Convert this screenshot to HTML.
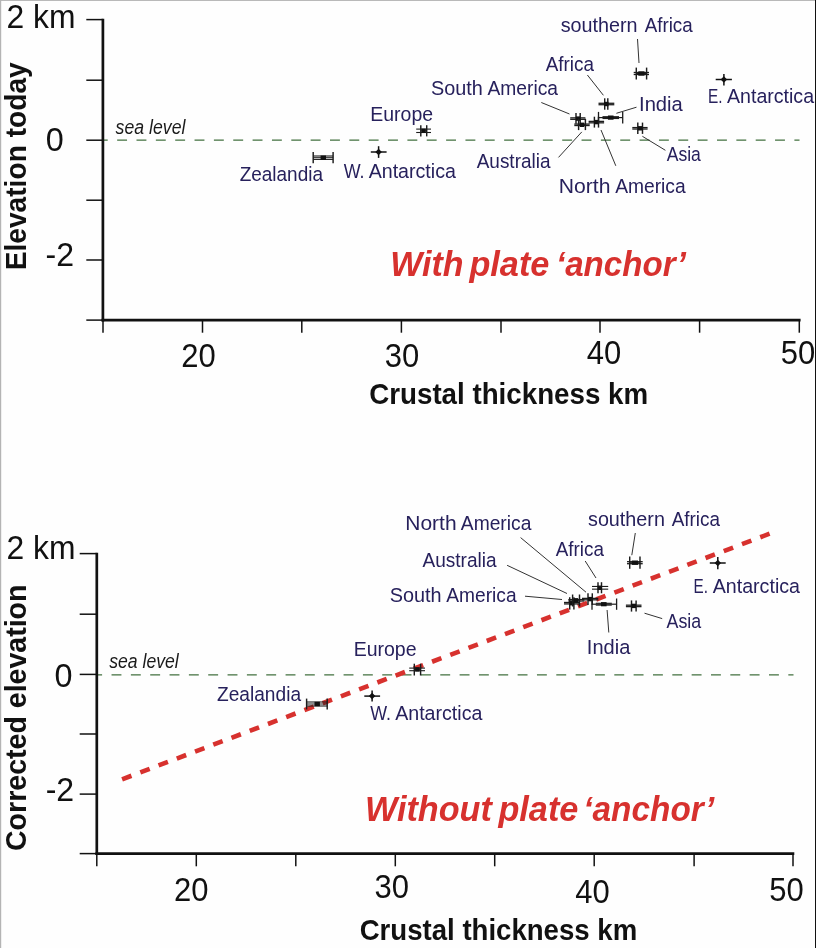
<!DOCTYPE html>
<html><head><meta charset="utf-8"><title>Crustal thickness vs elevation</title>
<style>html,body{margin:0;padding:0;background:#fff;}body{width:816px;height:948px;overflow:hidden;}svg{display:block;font-family:"Liberation Sans",sans-serif;will-change:transform;}</style>
</head><body>
<svg width="816" height="948" viewBox="0 0 816 948">
<rect x="0" y="0" width="816" height="948" fill="#fefefe"/>
<rect x="0" y="0" width="816" height="1" fill="#b9b9b9"/>
<rect x="0" y="0" width="1.2" height="948" fill="#b4b4b4"/>
<rect x="815" y="0" width="1" height="948" fill="#111"/>
<line x1="102.9" y1="140.1" x2="799.5" y2="140.1" stroke="#42703f" stroke-width="1.25" stroke-dasharray="9.9 9.45" stroke-dashoffset="5.1"/>
<line x1="102.9" y1="18.8" x2="102.9" y2="321.4" stroke="#111" stroke-width="2.7"/>
<line x1="86.3" y1="19.6" x2="102.9" y2="19.6" stroke="#111" stroke-width="1.5"/>
<line x1="86.3" y1="80.2" x2="102.9" y2="80.2" stroke="#111" stroke-width="1.5"/>
<line x1="86.3" y1="140.2" x2="102.9" y2="140.2" stroke="#111" stroke-width="1.5"/>
<line x1="86.3" y1="200.2" x2="102.9" y2="200.2" stroke="#111" stroke-width="1.5"/>
<line x1="86.3" y1="260.0" x2="102.9" y2="260.0" stroke="#111" stroke-width="1.5"/>
<line x1="101.55" y1="320.1" x2="800.6" y2="320.1" stroke="#111" stroke-width="2.7"/>
<line x1="86.3" y1="320.1" x2="102.9" y2="320.1" stroke="#111" stroke-width="1.5"/>
<line x1="103" y1="320.1" x2="103" y2="332.7" stroke="#111" stroke-width="1.5"/>
<line x1="202.5" y1="320.1" x2="202.5" y2="332.7" stroke="#111" stroke-width="1.5"/>
<line x1="301.8" y1="320.1" x2="301.8" y2="332.7" stroke="#111" stroke-width="1.5"/>
<line x1="401.4" y1="320.1" x2="401.4" y2="332.7" stroke="#111" stroke-width="1.5"/>
<line x1="501.0" y1="320.1" x2="501.0" y2="332.7" stroke="#111" stroke-width="1.5"/>
<line x1="600.0" y1="320.1" x2="600.0" y2="332.7" stroke="#111" stroke-width="1.5"/>
<line x1="699.6" y1="320.1" x2="699.6" y2="332.7" stroke="#111" stroke-width="1.5"/>
<line x1="799.3" y1="320.1" x2="799.3" y2="332.7" stroke="#111" stroke-width="1.5"/>
<text x="6.5" y="27.9" font-size="32.5" fill="#111" font-weight="normal" font-style="normal" text-anchor="start" textLength="69" lengthAdjust="spacingAndGlyphs">2 km</text>
<text x="45.8" y="150.7" font-size="32.5" fill="#111" font-weight="normal" font-style="normal" text-anchor="start" textLength="18" lengthAdjust="spacingAndGlyphs">0</text>
<text x="45.5" y="265.5" font-size="32.5" fill="#111" font-weight="normal" font-style="normal" text-anchor="start" textLength="28.5" lengthAdjust="spacingAndGlyphs">-2</text>
<text x="181.2" y="367.0" font-size="32.5" fill="#111" font-weight="normal" font-style="normal" text-anchor="start" textLength="34.5" lengthAdjust="spacingAndGlyphs">20</text>
<text x="384.7" y="367.0" font-size="32.5" fill="#111" font-weight="normal" font-style="normal" text-anchor="start" textLength="34.5" lengthAdjust="spacingAndGlyphs">30</text>
<text x="586.7" y="363.9" font-size="32.5" fill="#111" font-weight="normal" font-style="normal" text-anchor="start" textLength="34.5" lengthAdjust="spacingAndGlyphs">40</text>
<text x="780.7" y="363.9" font-size="32.5" fill="#111" font-weight="normal" font-style="normal" text-anchor="start" textLength="34.5" lengthAdjust="spacingAndGlyphs">50</text>
<text transform="translate(25.9,270.3) rotate(-90)" font-size="29.5" font-weight="bold" fill="#111" textLength="208" lengthAdjust="spacingAndGlyphs">Elevation today</text>
<text x="369.2" y="404.4" font-size="30" fill="#111" font-weight="bold" font-style="normal" text-anchor="start" textLength="279" lengthAdjust="spacingAndGlyphs">Crustal thickness km</text>
<text x="390.2" y="276.3" font-size="35" fill="#d7312e" font-weight="bold" font-style="italic" text-anchor="start" textLength="73.3" lengthAdjust="spacingAndGlyphs">With</text>
<text x="469.4" y="276.3" font-size="35" fill="#d7312e" font-weight="bold" font-style="italic" text-anchor="start" textLength="80" lengthAdjust="spacingAndGlyphs">plate</text>
<text x="556.0" y="276.3" font-size="35" fill="#d7312e" font-weight="bold" font-style="italic" text-anchor="start" textLength="130" lengthAdjust="spacingAndGlyphs">&#8216;anchor&#8217;</text>
<text x="115.6" y="134.2" font-size="20" fill="#1a1a1a" font-weight="normal" font-style="italic" text-anchor="start" textLength="69.8" lengthAdjust="spacingAndGlyphs">sea level</text>
<text x="560.7" y="32" font-size="19.7" fill="#27215c" font-weight="normal" font-style="normal" text-anchor="start" textLength="76.9" lengthAdjust="spacingAndGlyphs" id="w0">southern</text>
<text x="644.66" y="32" font-size="19.7" fill="#27215c" font-weight="normal" font-style="normal" text-anchor="start" textLength="48.04" lengthAdjust="spacingAndGlyphs" id="w1">Africa</text>
<text x="545.66" y="71" font-size="19.7" fill="#27215c" font-weight="normal" font-style="normal" text-anchor="start" textLength="48.25" lengthAdjust="spacingAndGlyphs" id="w2">Africa</text>
<text x="430.94" y="95" font-size="19.7" fill="#27215c" font-weight="normal" font-style="normal" text-anchor="start" textLength="51.87" lengthAdjust="spacingAndGlyphs" id="w3">South</text>
<text x="487.5" y="95" font-size="19.7" fill="#27215c" font-weight="normal" font-style="normal" text-anchor="start" textLength="70.5" lengthAdjust="spacingAndGlyphs" id="w4">America</text>
<text x="370.29" y="121" font-size="19.7" fill="#27215c" font-weight="normal" font-style="normal" text-anchor="start" textLength="62.82" lengthAdjust="spacingAndGlyphs" id="w5">Europe</text>
<text x="639.04" y="111" font-size="19.7" fill="#27215c" font-weight="normal" font-style="normal" text-anchor="start" textLength="43.71" lengthAdjust="spacingAndGlyphs" id="w6">India</text>
<text x="707.93" y="103" font-size="19.7" fill="#27215c" font-weight="normal" font-style="normal" text-anchor="start" textLength="14.55" lengthAdjust="spacingAndGlyphs" id="w7">E.</text>
<text x="727.0" y="103" font-size="19.7" fill="#27215c" font-weight="normal" font-style="normal" text-anchor="start" textLength="87.05" lengthAdjust="spacingAndGlyphs" id="w8">Antarctica</text>
<text x="666.66" y="161" font-size="19.7" fill="#27215c" font-weight="normal" font-style="normal" text-anchor="start" textLength="34.19" lengthAdjust="spacingAndGlyphs" id="w9">Asia</text>
<text x="476.7" y="168" font-size="19.7" fill="#27215c" font-weight="normal" font-style="normal" text-anchor="start" textLength="73.8" lengthAdjust="spacingAndGlyphs" id="w10">Australia</text>
<text x="558.81" y="193" font-size="19.7" fill="#27215c" font-weight="normal" font-style="normal" text-anchor="start" textLength="51.68" lengthAdjust="spacingAndGlyphs" id="w11">North</text>
<text x="615.2" y="193" font-size="19.7" fill="#27215c" font-weight="normal" font-style="normal" text-anchor="start" textLength="70.5" lengthAdjust="spacingAndGlyphs" id="w12">America</text>
<text x="239.66" y="181" font-size="19.7" fill="#27215c" font-weight="normal" font-style="normal" text-anchor="start" textLength="83.34" lengthAdjust="spacingAndGlyphs" id="w13">Zealandia</text>
<text x="343.65" y="178" font-size="19.7" fill="#27215c" font-weight="normal" font-style="normal" text-anchor="start" textLength="20.84" lengthAdjust="spacingAndGlyphs" id="w14">W.</text>
<text x="368.7" y="178" font-size="19.7" fill="#27215c" font-weight="normal" font-style="normal" text-anchor="start" textLength="87.2" lengthAdjust="spacingAndGlyphs" id="w15">Antarctica</text>
<line x1="637.5" y1="39.0" x2="639.0" y2="63.0" stroke="#333" stroke-width="1.0"/>
<line x1="587.4" y1="75.0" x2="603.4" y2="95.3" stroke="#333" stroke-width="1.0"/>
<line x1="541.3" y1="102.5" x2="569.5" y2="114.0" stroke="#333" stroke-width="1.0"/>
<line x1="558.5" y1="157.4" x2="581.8" y2="131.9" stroke="#333" stroke-width="1.0"/>
<line x1="601.0" y1="130.0" x2="615.8" y2="165.8" stroke="#333" stroke-width="1.0"/>
<line x1="616.4" y1="113.3" x2="636.5" y2="107.2" stroke="#333" stroke-width="1.0"/>
<line x1="642.4" y1="136.3" x2="665.4" y2="150.3" stroke="#333" stroke-width="1.0"/>
<line x1="313.2" y1="156.0" x2="333.1" y2="156.0" stroke="#1c1c1c" stroke-width="1.1"/>
<line x1="313.2" y1="159.39999999999998" x2="333.1" y2="159.39999999999998" stroke="#1c1c1c" stroke-width="1.1"/>
<line x1="313.2" y1="157.7" x2="333.1" y2="157.7" stroke="#1c1c1c" stroke-width="1.0"/>
<line x1="313.2" y1="152.0" x2="313.2" y2="163.3" stroke="#1c1c1c" stroke-width="1.45"/>
<line x1="333.1" y1="152.0" x2="333.1" y2="163.3" stroke="#1c1c1c" stroke-width="1.45"/>
<rect x="320.6" y="155.5" width="5.4" height="4.4" fill="#111"/>
<line x1="370.8" y1="152.0" x2="386.6" y2="152.0" stroke="#111" stroke-width="1.5"/>
<line x1="378.6" y1="146.2" x2="378.6" y2="157.9" stroke="#111" stroke-width="1.5"/>
<rect x="376.3" y="149.7" width="4.6" height="4.6" fill="#111" transform="rotate(45 378.6 152.0)"/>
<line x1="416.2" y1="129.10000000000002" x2="431.0" y2="129.10000000000002" stroke="#1c1c1c" stroke-width="1.1"/>
<line x1="416.2" y1="132.5" x2="431.0" y2="132.5" stroke="#1c1c1c" stroke-width="1.1"/>
<line x1="420.8" y1="130.8" x2="426.7" y2="130.8" stroke="#1c1c1c" stroke-width="1.0"/>
<line x1="420.8" y1="125.2" x2="420.8" y2="136.4" stroke="#1c1c1c" stroke-width="1.45"/>
<line x1="426.7" y1="125.2" x2="426.7" y2="136.4" stroke="#1c1c1c" stroke-width="1.45"/>
<rect x="421.40000000000003" y="128.60000000000002" width="4.4" height="4.4" fill="#111"/>
<line x1="598.5" y1="103.28" x2="614.3" y2="103.28" stroke="#1c1c1c" stroke-width="1.3"/>
<line x1="598.5" y1="104.72" x2="614.3" y2="104.72" stroke="#1c1c1c" stroke-width="1.3"/>
<line x1="604.7" y1="104.0" x2="607.8" y2="104.0" stroke="#1c1c1c" stroke-width="1.0"/>
<line x1="604.7" y1="98.3" x2="604.7" y2="109.7" stroke="#1c1c1c" stroke-width="1.45"/>
<line x1="607.8" y1="98.3" x2="607.8" y2="109.7" stroke="#1c1c1c" stroke-width="1.45"/>
<rect x="604.0999999999999" y="101.8" width="4.4" height="4.4" fill="#111"/>
<line x1="570.2" y1="117.88" x2="585.4" y2="117.88" stroke="#1c1c1c" stroke-width="1.3"/>
<line x1="570.2" y1="119.32" x2="585.4" y2="119.32" stroke="#1c1c1c" stroke-width="1.3"/>
<line x1="576.0" y1="118.6" x2="580.2" y2="118.6" stroke="#1c1c1c" stroke-width="1.0"/>
<line x1="576.0" y1="113.0" x2="576.0" y2="123.8" stroke="#1c1c1c" stroke-width="1.45"/>
<line x1="580.2" y1="113.0" x2="580.2" y2="123.8" stroke="#1c1c1c" stroke-width="1.45"/>
<rect x="575.9" y="116.39999999999999" width="4.4" height="4.4" fill="#111"/>
<line x1="574.3" y1="124.08" x2="589.7" y2="124.08" stroke="#1c1c1c" stroke-width="1.3"/>
<line x1="574.3" y1="125.52" x2="589.7" y2="125.52" stroke="#1c1c1c" stroke-width="1.3"/>
<line x1="578.6" y1="124.8" x2="585.4" y2="124.8" stroke="#1c1c1c" stroke-width="1.0"/>
<line x1="578.6" y1="118.8" x2="578.6" y2="130.1" stroke="#1c1c1c" stroke-width="1.45"/>
<line x1="585.4" y1="118.8" x2="585.4" y2="130.1" stroke="#1c1c1c" stroke-width="1.45"/>
<rect x="579.8" y="122.6" width="4.4" height="4.4" fill="#111"/>
<line x1="588.6" y1="121.38" x2="604.1" y2="121.38" stroke="#1c1c1c" stroke-width="1.3"/>
<line x1="588.6" y1="122.82" x2="604.1" y2="122.82" stroke="#1c1c1c" stroke-width="1.3"/>
<line x1="594.4" y1="122.1" x2="598.5" y2="122.1" stroke="#1c1c1c" stroke-width="1.0"/>
<line x1="594.4" y1="116.7" x2="594.4" y2="127.6" stroke="#1c1c1c" stroke-width="1.45"/>
<line x1="598.5" y1="116.7" x2="598.5" y2="127.6" stroke="#1c1c1c" stroke-width="1.45"/>
<rect x="594.1999999999999" y="119.89999999999999" width="4.4" height="4.4" fill="#111"/>
<line x1="598.5" y1="117.6" x2="622.7" y2="117.6" stroke="#1c1c1c" stroke-width="1.2"/>
<line x1="598.5" y1="111.9" x2="598.5" y2="123.4" stroke="#1c1c1c" stroke-width="1.3"/>
<line x1="622.7" y1="111.9" x2="622.7" y2="123.4" stroke="#1c1c1c" stroke-width="1.3"/>
<line x1="602.5" y1="116.69999999999999" x2="619.0" y2="116.69999999999999" stroke="#1c1c1c" stroke-width="1.15"/>
<line x1="602.5" y1="118.5" x2="619.0" y2="118.5" stroke="#1c1c1c" stroke-width="1.15"/>
<rect x="607.95" y="115.5" width="5.6" height="4.2" fill="#111"/>
<line x1="632.3" y1="127.58000000000001" x2="647.6" y2="127.58000000000001" stroke="#1c1c1c" stroke-width="1.3"/>
<line x1="632.3" y1="129.02" x2="647.6" y2="129.02" stroke="#1c1c1c" stroke-width="1.3"/>
<line x1="637.8" y1="128.3" x2="642.5" y2="128.3" stroke="#1c1c1c" stroke-width="1.0"/>
<line x1="637.8" y1="122.6" x2="637.8" y2="133.9" stroke="#1c1c1c" stroke-width="1.45"/>
<line x1="642.5" y1="122.6" x2="642.5" y2="133.9" stroke="#1c1c1c" stroke-width="1.45"/>
<rect x="638.0" y="126.10000000000001" width="4.4" height="4.4" fill="#111"/>
<line x1="633.7" y1="72.5" x2="649.0" y2="72.5" stroke="#1c1c1c" stroke-width="1.3"/>
<line x1="633.7" y1="74.5" x2="649.0" y2="74.5" stroke="#1c1c1c" stroke-width="1.3"/>
<line x1="636.3" y1="73.5" x2="646.6" y2="73.5" stroke="#1c1c1c" stroke-width="1.0"/>
<line x1="636.3" y1="67.6" x2="636.3" y2="79.5" stroke="#1c1c1c" stroke-width="1.45"/>
<line x1="646.6" y1="67.6" x2="646.6" y2="79.5" stroke="#1c1c1c" stroke-width="1.45"/>
<rect x="638.3" y="71.3" width="6.2" height="4.4" fill="#111"/>
<line x1="715.7" y1="79.5" x2="731.9" y2="79.5" stroke="#111" stroke-width="1.5"/>
<line x1="723.9" y1="74.1" x2="723.9" y2="85.5" stroke="#111" stroke-width="1.5"/>
<rect x="721.6" y="77.2" width="4.6" height="4.6" fill="#111" transform="rotate(45 723.9 79.5)"/>
<line x1="96.8" y1="674.8" x2="793.5" y2="674.8" stroke="#42703f" stroke-width="1.25" stroke-dasharray="9.9 9.437" stroke-dashoffset="4.6"/>
<line x1="122.1" y1="779.3" x2="769.9" y2="533.6" stroke="#d7312e" stroke-width="4.6" stroke-dasharray="10.0 9.5"/>
<line x1="96.8" y1="552.7" x2="96.8" y2="854.9" stroke="#111" stroke-width="2.7"/>
<line x1="79.7" y1="553.6" x2="96.8" y2="553.6" stroke="#111" stroke-width="1.5"/>
<line x1="79.7" y1="614.2" x2="96.8" y2="614.2" stroke="#111" stroke-width="1.5"/>
<line x1="79.7" y1="674.4" x2="96.8" y2="674.4" stroke="#111" stroke-width="1.5"/>
<line x1="79.7" y1="734.0" x2="96.8" y2="734.0" stroke="#111" stroke-width="1.5"/>
<line x1="79.7" y1="794.1" x2="96.8" y2="794.1" stroke="#111" stroke-width="1.5"/>
<line x1="95.45" y1="853.6" x2="794.3" y2="853.6" stroke="#111" stroke-width="2.7"/>
<line x1="79.7" y1="853.6" x2="96.8" y2="853.6" stroke="#111" stroke-width="1.5"/>
<line x1="96.8" y1="853.6" x2="96.8" y2="866.3" stroke="#111" stroke-width="1.5"/>
<line x1="196.3" y1="853.6" x2="196.3" y2="866.3" stroke="#111" stroke-width="1.5"/>
<line x1="295.8" y1="853.6" x2="295.8" y2="866.3" stroke="#111" stroke-width="1.5"/>
<line x1="395.3" y1="853.6" x2="395.3" y2="866.3" stroke="#111" stroke-width="1.5"/>
<line x1="494.7" y1="853.6" x2="494.7" y2="866.3" stroke="#111" stroke-width="1.5"/>
<line x1="594.2" y1="853.6" x2="594.2" y2="866.3" stroke="#111" stroke-width="1.5"/>
<line x1="694.1" y1="853.6" x2="694.1" y2="866.3" stroke="#111" stroke-width="1.5"/>
<line x1="793.0" y1="853.6" x2="793.0" y2="866.3" stroke="#111" stroke-width="1.5"/>
<text x="6.5" y="559.4" font-size="32.5" fill="#111" font-weight="normal" font-style="normal" text-anchor="start" textLength="69" lengthAdjust="spacingAndGlyphs">2 km</text>
<text x="54.5" y="686.5" font-size="32.5" fill="#111" font-weight="normal" font-style="normal" text-anchor="start" textLength="18" lengthAdjust="spacingAndGlyphs">0</text>
<text x="45.7" y="801.3" font-size="32.5" fill="#111" font-weight="normal" font-style="normal" text-anchor="start" textLength="28.5" lengthAdjust="spacingAndGlyphs">-2</text>
<text x="174.0" y="900.8" font-size="32.5" fill="#111" font-weight="normal" font-style="normal" text-anchor="start" textLength="34.5" lengthAdjust="spacingAndGlyphs">20</text>
<text x="374.5" y="897.5" font-size="32.5" fill="#111" font-weight="normal" font-style="normal" text-anchor="start" textLength="34.5" lengthAdjust="spacingAndGlyphs">30</text>
<text x="575.2" y="902.5" font-size="32.5" fill="#111" font-weight="normal" font-style="normal" text-anchor="start" textLength="34.5" lengthAdjust="spacingAndGlyphs">40</text>
<text x="769.2" y="900.8" font-size="32.5" fill="#111" font-weight="normal" font-style="normal" text-anchor="start" textLength="34.5" lengthAdjust="spacingAndGlyphs">50</text>
<text transform="translate(26.1,851.0) rotate(-90)" font-size="29.5" font-weight="bold" fill="#111" textLength="266.5" lengthAdjust="spacingAndGlyphs">Corrected elevation</text>
<text x="359.7" y="939.8" font-size="30" fill="#111" font-weight="bold" font-style="normal" text-anchor="start" textLength="277.5" lengthAdjust="spacingAndGlyphs">Crustal thickness km</text>
<text x="364.9" y="820.6" font-size="35" fill="#d7312e" font-weight="bold" font-style="italic" text-anchor="start" textLength="127" lengthAdjust="spacingAndGlyphs">Without</text>
<text x="498.4" y="820.6" font-size="35" fill="#d7312e" font-weight="bold" font-style="italic" text-anchor="start" textLength="80" lengthAdjust="spacingAndGlyphs">plate</text>
<text x="583.3" y="820.6" font-size="35" fill="#d7312e" font-weight="bold" font-style="italic" text-anchor="start" textLength="131" lengthAdjust="spacingAndGlyphs">&#8216;anchor&#8217;</text>
<text x="109.2" y="668.2" font-size="20" fill="#1a1a1a" font-weight="normal" font-style="italic" text-anchor="start" textLength="69.6" lengthAdjust="spacingAndGlyphs">sea level</text>
<text x="405.31" y="530" font-size="19.7" fill="#27215c" font-weight="normal" font-style="normal" text-anchor="start" textLength="51.29" lengthAdjust="spacingAndGlyphs" id="w16">North</text>
<text x="460.8" y="530" font-size="19.7" fill="#27215c" font-weight="normal" font-style="normal" text-anchor="start" textLength="70.6" lengthAdjust="spacingAndGlyphs" id="w17">America</text>
<text x="588.0" y="526" font-size="19.7" fill="#27215c" font-weight="normal" font-style="normal" text-anchor="start" textLength="76.91" lengthAdjust="spacingAndGlyphs" id="w18">southern</text>
<text x="671.7" y="526" font-size="19.7" fill="#27215c" font-weight="normal" font-style="normal" text-anchor="start" textLength="48.3" lengthAdjust="spacingAndGlyphs" id="w19">Africa</text>
<text x="422.5" y="567" font-size="19.7" fill="#27215c" font-weight="normal" font-style="normal" text-anchor="start" textLength="74.05" lengthAdjust="spacingAndGlyphs" id="w20">Australia</text>
<text x="555.7" y="556" font-size="19.7" fill="#27215c" font-weight="normal" font-style="normal" text-anchor="start" textLength="48.2" lengthAdjust="spacingAndGlyphs" id="w21">Africa</text>
<text x="389.75" y="602" font-size="19.7" fill="#27215c" font-weight="normal" font-style="normal" text-anchor="start" textLength="51.87" lengthAdjust="spacingAndGlyphs" id="w22">South</text>
<text x="446.3" y="602" font-size="19.7" fill="#27215c" font-weight="normal" font-style="normal" text-anchor="start" textLength="70.25" lengthAdjust="spacingAndGlyphs" id="w23">America</text>
<text x="693.62" y="593" font-size="19.7" fill="#27215c" font-weight="normal" font-style="normal" text-anchor="start" textLength="14.41" lengthAdjust="spacingAndGlyphs" id="w24">E.</text>
<text x="712.7" y="593" font-size="19.7" fill="#27215c" font-weight="normal" font-style="normal" text-anchor="start" textLength="87.3" lengthAdjust="spacingAndGlyphs" id="w25">Antarctica</text>
<text x="666.5" y="628" font-size="19.7" fill="#27215c" font-weight="normal" font-style="normal" text-anchor="start" textLength="34.69" lengthAdjust="spacingAndGlyphs" id="w26">Asia</text>
<text x="586.86" y="654" font-size="19.7" fill="#27215c" font-weight="normal" font-style="normal" text-anchor="start" textLength="43.44" lengthAdjust="spacingAndGlyphs" id="w27">India</text>
<text x="353.63" y="656" font-size="19.7" fill="#27215c" font-weight="normal" font-style="normal" text-anchor="start" textLength="62.97" lengthAdjust="spacingAndGlyphs" id="w28">Europe</text>
<text x="217.01" y="701" font-size="19.7" fill="#27215c" font-weight="normal" font-style="normal" text-anchor="start" textLength="84.04" lengthAdjust="spacingAndGlyphs" id="w29">Zealandia</text>
<text x="370.15" y="720" font-size="19.7" fill="#27215c" font-weight="normal" font-style="normal" text-anchor="start" textLength="20.84" lengthAdjust="spacingAndGlyphs" id="w30">W.</text>
<text x="395.2" y="720" font-size="19.7" fill="#27215c" font-weight="normal" font-style="normal" text-anchor="start" textLength="87.2" lengthAdjust="spacingAndGlyphs" id="w31">Antarctica</text>
<line x1="520.6" y1="537.6" x2="586.0" y2="592.2" stroke="#333" stroke-width="1.0"/>
<line x1="635.3" y1="533.0" x2="631.8" y2="555.2" stroke="#333" stroke-width="1.0"/>
<line x1="585.2" y1="561.0" x2="596.0" y2="578.0" stroke="#333" stroke-width="1.0"/>
<line x1="507.1" y1="565.3" x2="567.0" y2="593.5" stroke="#333" stroke-width="1.0"/>
<line x1="525.0" y1="596.2" x2="562.0" y2="599.5" stroke="#333" stroke-width="1.0"/>
<line x1="607.1" y1="610.0" x2="608.8" y2="632.5" stroke="#333" stroke-width="1.0"/>
<line x1="644.5" y1="613.2" x2="662.2" y2="618.6" stroke="#333" stroke-width="1.0"/>
<line x1="306.6" y1="702.0" x2="327.2" y2="702.0" stroke="#1c1c1c" stroke-width="1.1"/>
<line x1="306.6" y1="706.0" x2="327.2" y2="706.0" stroke="#1c1c1c" stroke-width="1.1"/>
<line x1="306.6" y1="704.0" x2="327.2" y2="704.0" stroke="#1c1c1c" stroke-width="1.0"/>
<line x1="306.6" y1="698.6" x2="306.6" y2="709.4" stroke="#1c1c1c" stroke-width="1.45"/>
<line x1="327.2" y1="698.6" x2="327.2" y2="709.4" stroke="#1c1c1c" stroke-width="1.45"/>
<rect x="314.5" y="701.8" width="5.4" height="4.4" fill="#111"/>
<line x1="364.3" y1="696.1" x2="380.1" y2="696.1" stroke="#111" stroke-width="1.5"/>
<line x1="372.1" y1="690.6" x2="372.1" y2="701.6" stroke="#111" stroke-width="1.5"/>
<rect x="369.8" y="693.8000000000001" width="4.6" height="4.6" fill="#111" transform="rotate(45 372.1 696.1)"/>
<line x1="409.2" y1="668.1" x2="425.0" y2="668.1" stroke="#1c1c1c" stroke-width="1.1"/>
<line x1="409.2" y1="670.6999999999999" x2="425.0" y2="670.6999999999999" stroke="#1c1c1c" stroke-width="1.1"/>
<line x1="414.3" y1="669.4" x2="420.6" y2="669.4" stroke="#1c1c1c" stroke-width="1.0"/>
<line x1="414.3" y1="663.7" x2="414.3" y2="675.5" stroke="#1c1c1c" stroke-width="1.45"/>
<line x1="420.6" y1="663.7" x2="420.6" y2="675.5" stroke="#1c1c1c" stroke-width="1.45"/>
<rect x="415.2" y="667.1999999999999" width="4.4" height="4.4" fill="#111"/>
<line x1="592.0" y1="586.4499999999999" x2="608.2" y2="586.4499999999999" stroke="#1c1c1c" stroke-width="1.1"/>
<line x1="592.0" y1="589.15" x2="608.2" y2="589.15" stroke="#1c1c1c" stroke-width="1.1"/>
<line x1="598.0" y1="587.8" x2="601.5" y2="587.8" stroke="#1c1c1c" stroke-width="1.0"/>
<line x1="598.0" y1="582.2" x2="598.0" y2="593.3" stroke="#1c1c1c" stroke-width="1.45"/>
<line x1="601.5" y1="582.2" x2="601.5" y2="593.3" stroke="#1c1c1c" stroke-width="1.45"/>
<rect x="597.5999999999999" y="585.5999999999999" width="4.4" height="4.4" fill="#111"/>
<line x1="564.0" y1="602.48" x2="579.8" y2="602.48" stroke="#1c1c1c" stroke-width="1.3"/>
<line x1="564.0" y1="603.9200000000001" x2="579.8" y2="603.9200000000001" stroke="#1c1c1c" stroke-width="1.3"/>
<line x1="569.7" y1="603.2" x2="573.9" y2="603.2" stroke="#1c1c1c" stroke-width="1.0"/>
<line x1="569.7" y1="597.2" x2="569.7" y2="609.6" stroke="#1c1c1c" stroke-width="1.45"/>
<line x1="573.9" y1="597.2" x2="573.9" y2="609.6" stroke="#1c1c1c" stroke-width="1.45"/>
<rect x="569.5" y="601.0" width="4.4" height="4.4" fill="#111"/>
<line x1="568.3" y1="599.5799999999999" x2="584.3" y2="599.5799999999999" stroke="#1c1c1c" stroke-width="1.3"/>
<line x1="568.3" y1="601.02" x2="584.3" y2="601.02" stroke="#1c1c1c" stroke-width="1.3"/>
<line x1="572.6" y1="600.3" x2="579.5" y2="600.3" stroke="#1c1c1c" stroke-width="1.0"/>
<line x1="572.6" y1="594.5" x2="572.6" y2="606.5" stroke="#1c1c1c" stroke-width="1.45"/>
<line x1="579.5" y1="594.5" x2="579.5" y2="606.5" stroke="#1c1c1c" stroke-width="1.45"/>
<rect x="573.8" y="598.0999999999999" width="4.4" height="4.4" fill="#111"/>
<line x1="582.0" y1="598.38" x2="598.3" y2="598.38" stroke="#1c1c1c" stroke-width="1.3"/>
<line x1="582.0" y1="599.82" x2="598.3" y2="599.82" stroke="#1c1c1c" stroke-width="1.3"/>
<line x1="588.0" y1="599.1" x2="592.3" y2="599.1" stroke="#1c1c1c" stroke-width="1.0"/>
<line x1="588.0" y1="593.3" x2="588.0" y2="605.0" stroke="#1c1c1c" stroke-width="1.45"/>
<line x1="592.3" y1="593.3" x2="592.3" y2="605.0" stroke="#1c1c1c" stroke-width="1.45"/>
<rect x="588.0999999999999" y="596.9" width="4.4" height="4.4" fill="#111"/>
<line x1="592.0" y1="604.2" x2="616.6" y2="604.2" stroke="#1c1c1c" stroke-width="1.2"/>
<line x1="592.0" y1="598.5" x2="592.0" y2="609.8" stroke="#1c1c1c" stroke-width="1.3"/>
<line x1="616.6" y1="598.5" x2="616.6" y2="609.8" stroke="#1c1c1c" stroke-width="1.3"/>
<line x1="595.8" y1="603.3000000000001" x2="611.8" y2="603.3000000000001" stroke="#1c1c1c" stroke-width="1.15"/>
<line x1="595.8" y1="605.1" x2="611.8" y2="605.1" stroke="#1c1c1c" stroke-width="1.15"/>
<rect x="601.0" y="602.1" width="5.6" height="4.2" fill="#111"/>
<line x1="625.9" y1="605.18" x2="641.5" y2="605.18" stroke="#1c1c1c" stroke-width="1.3"/>
<line x1="625.9" y1="606.62" x2="641.5" y2="606.62" stroke="#1c1c1c" stroke-width="1.3"/>
<line x1="631.5" y1="605.9" x2="636.1" y2="605.9" stroke="#1c1c1c" stroke-width="1.0"/>
<line x1="631.5" y1="600.4" x2="631.5" y2="611.6" stroke="#1c1c1c" stroke-width="1.45"/>
<line x1="636.1" y1="600.4" x2="636.1" y2="611.6" stroke="#1c1c1c" stroke-width="1.45"/>
<rect x="631.5999999999999" y="603.6999999999999" width="4.4" height="4.4" fill="#111"/>
<line x1="627.0" y1="561.7" x2="642.7" y2="561.7" stroke="#1c1c1c" stroke-width="1.3"/>
<line x1="627.0" y1="563.7" x2="642.7" y2="563.7" stroke="#1c1c1c" stroke-width="1.3"/>
<line x1="629.7" y1="562.7" x2="640.0" y2="562.7" stroke="#1c1c1c" stroke-width="1.0"/>
<line x1="629.7" y1="556.5" x2="629.7" y2="568.8" stroke="#1c1c1c" stroke-width="1.45"/>
<line x1="640.0" y1="556.5" x2="640.0" y2="568.8" stroke="#1c1c1c" stroke-width="1.45"/>
<rect x="631.8" y="560.5" width="6.2" height="4.4" fill="#111"/>
<line x1="709.8" y1="563.0" x2="725.7" y2="563.0" stroke="#111" stroke-width="1.5"/>
<line x1="717.8" y1="556.9" x2="717.8" y2="569.3" stroke="#111" stroke-width="1.5"/>
<rect x="715.5" y="560.7" width="4.6" height="4.6" fill="#111" transform="rotate(45 717.8 563.0)"/>
</svg></body></html>
